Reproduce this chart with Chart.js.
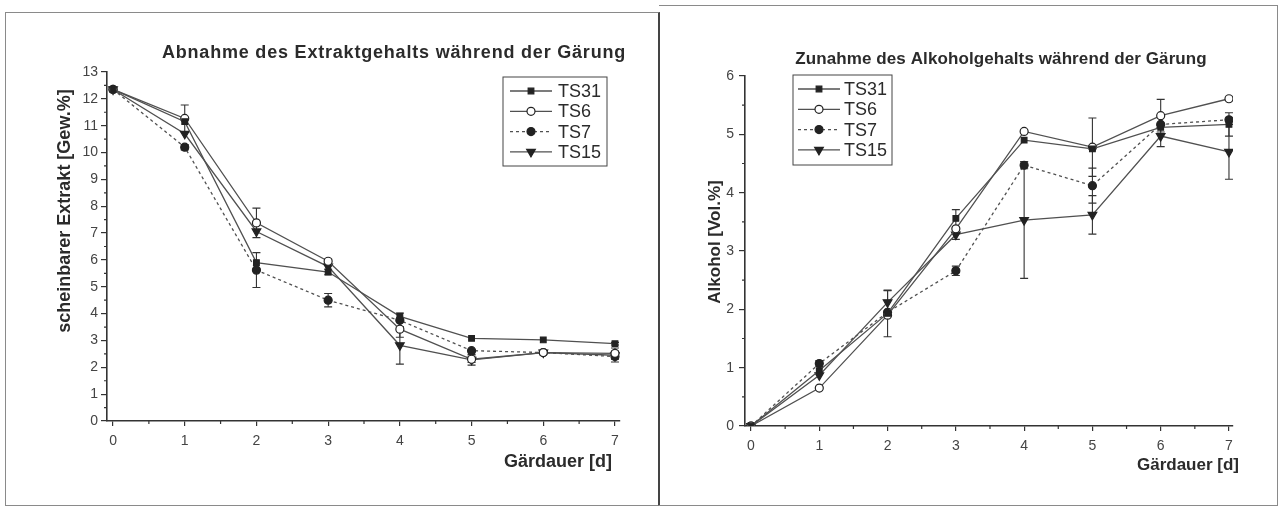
<!DOCTYPE html>
<html>
<head>
<meta charset="utf-8">
<title>Gärverlauf</title>
<script src="https://cdn.jsdelivr.net/npm/chart.js@4.4.1/dist/chart.umd.min.js"></script>
<style>
  html, body { margin: 0; padding: 0; background: #fff; }
  body { width: 1281px; height: 508px; position: relative; overflow: hidden; }
  .frame { position: absolute; box-sizing: border-box; }
  #frameL { left: 5px; top: 12px; width: 655px; height: 494px; border: 1px solid #8a8a8a; border-right: 2px solid #444; }
  #frameR { left: 659px; top: 5px; width: 619px; height: 501px; border: 1px solid #8a8a8a; border-left: none; }
  canvas { position: absolute; top: 0; }
</style>
</head>
<body>
<div class="frame" id="frameL"></div>
<div class="frame" id="frameR"></div>
<canvas id="chartExtrakt" width="658" height="508" style="left:0"></canvas>
<canvas id="chartAlkohol" width="623" height="508" style="left:658px"></canvas>
<script>
// Fermentation days and series
const days = [0, 1, 2, 3, 4, 5, 6, 7];
const seriesNames = ['TS31', 'TS6', 'TS7', 'TS15'];

// Apparent extract [Gew.%]
const extraktTS31 = [12.35, 11.15, 5.9, 5.55, 3.9, 3.08, 3.02, 2.88];
const extraktTS6  = [12.35, 11.27, 7.38, 5.95, 3.42, 2.3, 2.55, 2.52];
const extraktTS7  = [12.35, 10.2, 5.62, 4.5, 3.75, 2.62, 2.55, 2.4];
const extraktTS15 = [12.35, 10.7, 7.06, 5.75, 2.82, 2.28, 2.55, 2.45];
// standard deviations (0 = no bar)
const extraktErrTS31 = [0, 0, 0, 0.1, 0.12, 0, 0, 0.05];
const extraktErrTS6  = [0, 0.5, 0.55, 0.08, 0.3, 0.12, 0, 0.2];
const extraktErrTS7  = [0, 0.1, 0.65, 0.25, 0, 0, 0, 0.2];
const extraktErrTS15 = [0, 0, 0, 0, 0.7, 0.2, 0.08, 0.15];

// Alcohol [Vol.%]
const alkTS31 = [0, 0.95, 1.93, 3.56, 4.9, 4.75, 5.12, 5.17];
const alkTS6  = [0, 0.65, 1.9, 3.38, 5.05, 4.78, 5.32, 5.61];
const alkTS7  = [0, 1.07, 1.95, 2.66, 4.47, 4.12, 5.17, 5.25];
const alkTS15 = [0, 0.87, 2.12, 3.28, 3.53, 3.62, 4.97, 4.7];
const alkErrTS31 = [0, 0, 0.4, 0.15, 0, 0, 0, 0.2];
const alkErrTS6  = [0, 0, 0, 0, 0, 0.5, 0.28, 0];
const alkErrTS7  = [0, 0.05, 0, 0.08, 0.06, 0.3, 0, 0];
const alkErrTS15 = [0, 0, 0.2, 0.08, 1.0, 0.33, 0.18, 0.47];

// Tick labels
const xTicks = [0, 1, 2, 3, 4, 5, 6, 7];
const yTicksExtrakt = [0, 1, 2, 3, 4, 5, 6, 7, 8, 9, 10, 11, 12, 13];
const yTicksAlkohol = [0, 1, 2, 3, 4, 5, 6];

// Text
const titleExtrakt = 'Abnahme des Extraktgehalts während der Gärung';
const titleAlkohol = 'Zunahme des Alkoholgehalts während der Gärung';
const yLabelExtrakt = 'scheinbarer Extrakt [Gew.%]';
const yLabelAlkohol = 'Alkohol [Vol.%]';
const xLabel = 'Gärdauer [d]';

const FONT = '"Liberation Sans", Arial, Helvetica, sans-serif';
const INK = '#2b2b2b';
const LINE = '#505050';

// marker look per series
const seriesStyle = [
  { pointStyle: 'rect', fill: '#222', dash: [], rotation: 0, radius: 4 },
  { pointStyle: 'circle', fill: '#fff', dash: [], rotation: 0, radius: 4 },
  { pointStyle: 'circle', fill: '#222', dash: [3, 3], rotation: 0, radius: 4 },
  { pointStyle: 'triangle', fill: '#222', dash: [], rotation: 180, radius: 5 }
];

function makeDatasets(values, errors) {
  return values.map((vals, i) => {
    const s = seriesStyle[i];
    return {
      label: seriesNames[i],
      data: days.map((d, j) => ({ x: d, y: vals[j] })),
      errors: errors[i],
      borderColor: LINE,
      borderWidth: 1.3,
      borderDash: s.dash,
      pointStyle: s.pointStyle,
      pointRotation: s.rotation,
      pointRadius: s.radius,
      pointBackgroundColor: s.fill,
      pointBorderColor: '#222',
      pointBorderWidth: 1.2,
      tension: 0,
      fill: false
    };
  });
}

// Error bars, minor ticks, legend box, titles
const decor = {
  id: 'decor',
  beforeDatasetsDraw(chart) {
    const ctx = chart.ctx;
    const xs = chart.scales.x, ys = chart.scales.y;
    ctx.save();
    ctx.strokeStyle = '#333';
    ctx.lineWidth = 1.1;
    chart.data.datasets.forEach(ds => {
      ds.data.forEach((p, j) => {
        const e = ds.errors[j];
        if (!e) return;
        const x = xs.getPixelForValue(p.x);
        const y1 = ys.getPixelForValue(p.y + e);
        const y2 = ys.getPixelForValue(p.y - e);
        ctx.beginPath();
        ctx.moveTo(x, y1); ctx.lineTo(x, y2);
        ctx.moveTo(x - 4, y1); ctx.lineTo(x + 4, y1);
        ctx.moveTo(x - 4, y2); ctx.lineTo(x + 4, y2);
        ctx.stroke();
      });
    });
    ctx.restore();
  },
  afterDraw(chart, args, opts) {
    const ctx = chart.ctx;
    const xs = chart.scales.x, ys = chart.scales.y;
    const area = chart.chartArea;
    ctx.save();
    // minor ticks at half steps
    ctx.strokeStyle = '#333';
    ctx.lineWidth = 1.2;
    ctx.beginPath();
    for (let v = 0.5; v < xs.max; v += 1) {
      const x = xs.getPixelForValue(v);
      ctx.moveTo(x, area.bottom); ctx.lineTo(x, area.bottom + 3);
    }
    for (let v = 0.5; v < ys.max; v += 1) {
      const y = ys.getPixelForValue(v);
      ctx.moveTo(area.left, y); ctx.lineTo(area.left - 3, y);
    }
    ctx.stroke();

    // chart title
    ctx.fillStyle = INK;
    ctx.font = 'bold ' + opts.titleSize + 'px ' + FONT;
    ctx.letterSpacing = opts.titleSpacing;
    ctx.textAlign = 'center';
    ctx.textBaseline = 'alphabetic';
    ctx.fillText(opts.title, opts.titleX, opts.titleY);
    ctx.letterSpacing = '0px';

    // axis titles
    ctx.font = 'bold ' + opts.labelSize + 'px ' + FONT;
    ctx.textAlign = 'right';
    ctx.fillText(opts.xLabel, opts.xLabelX, opts.xLabelY);
    ctx.save();
    ctx.translate(opts.yLabelX, opts.yLabelY);
    ctx.rotate(-Math.PI / 2);
    ctx.textAlign = 'center';
    ctx.textBaseline = 'middle';
    ctx.fillText(opts.yLabel, 0, 0);
    ctx.restore();

    // legend
    const lg = opts.legend;
    ctx.strokeStyle = '#444';
    ctx.lineWidth = 1;
    ctx.strokeRect(lg.x, lg.y, lg.w, lg.h);
    ctx.font = '18px ' + FONT;
    ctx.textAlign = 'left';
    ctx.textBaseline = 'middle';
    chart.data.datasets.forEach((ds, i) => {
      const ry = lg.y + lg.row0 + i * lg.rowStep;
      ctx.save();
      ctx.strokeStyle = LINE;
      ctx.lineWidth = 1.3;
      ctx.setLineDash(ds.borderDash);
      ctx.beginPath();
      ctx.moveTo(lg.x + lg.lineFrom, ry);
      ctx.lineTo(lg.x + lg.lineTo, ry);
      ctx.stroke();
      ctx.setLineDash([]);
      ctx.fillStyle = ds.pointBackgroundColor;
      ctx.strokeStyle = ds.pointBorderColor;
      ctx.lineWidth = ds.pointBorderWidth;
      Chart.helpers.drawPoint(ctx, {
        pointStyle: ds.pointStyle,
        radius: ds.pointRadius,
        rotation: ds.pointRotation,
        borderWidth: ds.pointBorderWidth
      }, lg.x + (lg.lineFrom + lg.lineTo) / 2, ry);
      ctx.restore();
      ctx.fillStyle = INK;
      ctx.fillText(ds.label, lg.x + lg.textX, ry + 1);
    });
    ctx.restore();
  }
};

function axisOptions(xMin, xMax, yMin, yMax, yTicks, yWidth, yPad) {
  const tickFont = { family: FONT, size: 14 };
  return {
    x: {
      type: 'linear',
      min: xMin, max: xMax,
      afterBuildTicks: s => { s.ticks = xTicks.map(v => ({ value: v })); },
      afterFit: s => { s.height = 40; },
      grid: { display: true, drawOnChartArea: false, drawTicks: true, tickLength: 5, color: '#333', lineWidth: 1.2 },
      border: { display: true, color: '#333', width: 1.6 },
      ticks: { font: tickFont, color: '#444', padding: 7, maxRotation: 0, callback: v => String(v) }
    },
    y: {
      type: 'linear',
      min: yMin, max: yMax,
      afterBuildTicks: s => { s.ticks = yTicks.map(v => ({ value: v })); },
      afterFit: s => { s.width = yWidth; },
      grid: { display: true, drawOnChartArea: false, drawTicks: true, tickLength: 6, color: '#333', lineWidth: 1.2 },
      border: { display: true, color: '#333', width: 1.6 },
      ticks: { font: tickFont, color: '#444', padding: yPad, callback: v => String(v) }
    }
  };
}

Chart.defaults.font.family = FONT;

new Chart(document.getElementById('chartExtrakt'), {
  type: 'line',
  data: {
    datasets: makeDatasets(
      [extraktTS31, extraktTS6, extraktTS7, extraktTS15],
      [extraktErrTS31, extraktErrTS6, extraktErrTS7, extraktErrTS15])
  },
  options: {
    responsive: false,
    animation: false,
    devicePixelRatio: 1,
    layout: { padding: { left: 0, top: 72, right: 38, bottom: 47 } },
    scales: axisOptions(-0.084, 7.07, 0, 13, yTicksExtrakt, 107, 3),
    plugins: {
      legend: { display: false },
      tooltip: { enabled: false },
      decor: {
        title: titleExtrakt, titleX: 394, titleY: 58, titleSize: 18, titleSpacing: '0.8px',
        labelSize: 18,
        xLabel: xLabel, xLabelX: 612, xLabelY: 467,
        yLabel: yLabelExtrakt, yLabelX: 65, yLabelY: 211,
        legend: { x: 503, y: 77, w: 104, h: 89, row0: 14, rowStep: 20.3, lineFrom: 7, lineTo: 49, textX: 55 }
      }
    }
  },
  plugins: [decor]
});

new Chart(document.getElementById('chartAlkohol'), {
  type: 'line',
  data: {
    datasets: makeDatasets(
      [alkTS31, alkTS6, alkTS7, alkTS15],
      [alkErrTS31, alkErrTS6, alkErrTS7, alkErrTS15])
  },
  options: {
    responsive: false,
    animation: false,
    devicePixelRatio: 1,
    layout: { padding: { left: 0, top: 76, right: 48, bottom: 42 } },
    scales: axisOptions(-0.088, 7.059, 0, 6, yTicksAlkohol, 87, 5),
    plugins: {
      legend: { display: false },
      tooltip: { enabled: false },
      decor: {
        title: titleAlkohol, titleX: 343, titleY: 64, titleSize: 17, titleSpacing: '0.1px',
        labelSize: 17,
        xLabel: xLabel, xLabelX: 581, xLabelY: 470,
        yLabel: yLabelAlkohol, yLabelX: 57, yLabelY: 242,
        legend: { x: 135, y: 75, w: 99, h: 90, row0: 14, rowStep: 20.3, lineFrom: 5, lineTo: 47, textX: 51 }
      }
    }
  },
  plugins: [decor]
});
</script>
</body>
</html>
